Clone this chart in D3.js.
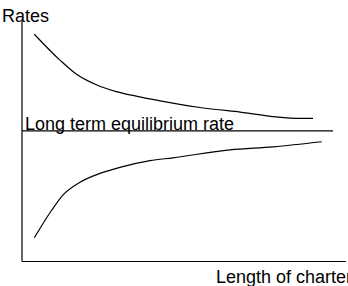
<!DOCTYPE html>
<html><head><meta charset="utf-8">
<script src="https://cdn.jsdelivr.net/npm/d3@7"></script>
<style>html,body{margin:0;padding:0;background:#fff;}svg{display:block;}</style>
</head><body>
<script>
const upperX = [3.8, 11.7, 16.4, 23.1, 29.2, 39.5, 54.9, 67.3, 84.9, 89.8];
const upperY = [94.9, 84.1, 78.6, 73.7, 70.9, 67.9, 64.3, 62.4, 59.8, 59.8];
const lowerX = [3.8, 9.2, 12.7, 17.9, 24.1, 30.2, 39.5, 46.6, 64.2, 77.5, 92.5];
const lowerY = [9.9, 21.5, 27.8, 33.1, 36.8, 39.3, 42.1, 43.3, 46.6, 47.9, 50.0];
const equilibriumRate = 54.5;
const equilibriumEnd = 96;
const yLabel = "Rates";
const xLabel = "Length of charter";
const eqLabel = "Long term equilibrium rate";

const W = 348, H = 286;
const svg = d3.select("body").append("svg").attr("width", W).attr("height", H);
const x = d3.scaleLinear().domain([0, 100]).range([22, 346]);
const y = d3.scaleLinear().domain([0, 100]).range([261.5, 22]);
const font = "'Liberation Sans', Arial, sans-serif";

// axes
svg.append("line").attr("x1", x(0)).attr("x2", x(0)).attr("y1", 21).attr("y2", y(0))
  .attr("stroke", "#000").attr("stroke-width", 1.2);
svg.append("line").attr("x1", x(0)).attr("x2", x(100)).attr("y1", y(0)).attr("y2", y(0))
  .attr("stroke", "#000").attr("stroke-width", 1.2);
// equilibrium line
svg.append("line").attr("x1", x(0)).attr("x2", x(equilibriumEnd))
  .attr("y1", y(equilibriumRate)).attr("y2", y(equilibriumRate))
  .attr("stroke", "#000").attr("stroke-width", 1.2);

const line = d3.line().x(d => x(d[0])).y(d => y(d[1])).curve(d3.curveMonotoneX);
svg.append("path").datum(d3.zip(upperX, upperY)).attr("d", line)
  .attr("fill", "none").attr("stroke", "#000").attr("stroke-width", 1.2);
svg.append("path").datum(d3.zip(lowerX, lowerY)).attr("d", line)
  .attr("fill", "none").attr("stroke", "#000").attr("stroke-width", 1.2);

svg.append("text").attr("x", 2).attr("y", 22).attr("font-family", font).attr("font-size", 18)
  .attr("fill", "#000").text(yLabel);
svg.append("text").attr("x", 25).attr("y", 130).attr("font-family", font).attr("font-size", 18)
  .attr("fill", "#000").text(eqLabel);
svg.append("text").attr("x", 216).attr("y", 283).attr("font-family", font).attr("font-size", 18)
  .attr("fill", "#000").text(xLabel);
</script>
</body></html>
